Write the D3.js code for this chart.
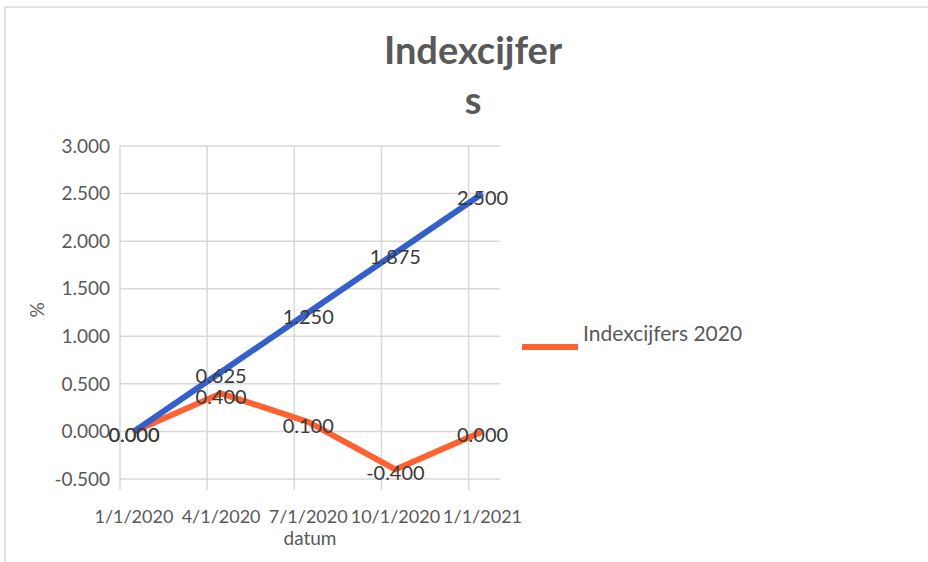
<!DOCTYPE html>
<html>
<head>
<meta charset="utf-8">
<script src="https://cdn.jsdelivr.net/npm/d3@7"></script>
<style>
  body { margin: 0; background: #fff; }
  text { font-family: Lato, "Open Sans", sans-serif; }
</style>
</head>
<body>
<svg id="chart" width="928" height="562"></svg>
<script>
// data
const dates = ["1/1/2020", "4/1/2020", "7/1/2020", "10/1/2020", "1/1/2021"];
const indexcijfers2020 = [0.0, 0.4, 0.1, -0.4, 0.0];
const trendSeries = [0.0, 0.625, 1.25, 1.875, 2.5];
const yTicks = [-0.5, 0, 0.5, 1, 1.5, 2, 2.5, 3];
const titleLines = ["Indexcijfer", "s"];
const legendLabel = "Indexcijfers 2020";

const svg = d3.select("#chart");

let plot = { left: 120, right: 500, top: 146, bottom: 479 };

// x: category index, ticks on integers, points sit a bit to the right
let x = d3.scaleLinear().domain([0, 4.36]).range([plot.left, plot.right]);
let pointOffset = 0.16;
let y = d3.scaleLinear().domain([-0.5, 3]).range([plot.bottom, plot.top]);

// plain hyphen for negatives, like the original
let fmt = d3
  .formatLocale({ decimal: ".", thousands: ",", grouping: [3], currency: ["", ""], minus: "-" })
  .format(".3f");

// outer frame (only top + left visible)
svg.append("line").attr("x1", 5).attr("x2", 928).attr("y1", 7).attr("y2", 7)
  .style("stroke", "#d9d9d9").style("stroke-width", 1.5);
svg.append("line").attr("x1", 5).attr("x2", 5).attr("y1", 7).attr("y2", 562)
  .style("stroke", "#d9d9d9").style("stroke-width", 1.5);

// title (wrapped in two lines like the original)
svg.append("text")
  .attr("text-anchor", "middle")
  .style("font-size", "38px")
  .style("font-weight", "bold")
  .style("fill", "#595959")
  .selectAll("tspan")
  .data(titleLines)
  .enter()
  .append("tspan")
  .attr("x", 473)
  .attr("y", (d, i) => 64 + i * 50)
  .text((d) => d);

// horizontal grid
svg.append("g")
  .selectAll("line")
  .data(yTicks)
  .enter()
  .append("line")
  .attr("x1", plot.left)
  .attr("x2", plot.right)
  .attr("y1", (d) => y(d))
  .attr("y2", (d) => y(d))
  .style("stroke", "#d9d9d9")
  .style("stroke-width", 1.5);

// vertical grid + ticks below the axis
svg.append("g")
  .selectAll("line")
  .data(dates)
  .enter()
  .append("line")
  .attr("x1", (d, i) => x(i))
  .attr("x2", (d, i) => x(i))
  .attr("y1", plot.top)
  .attr("y2", plot.bottom + 11)
  .style("stroke", "#d9d9d9")
  .style("stroke-width", 1.5);

// y tick labels
svg.append("g")
  .selectAll("text")
  .data(yTicks)
  .enter()
  .append("text")
  .attr("x", 110)
  .attr("y", (d) => y(d))
  .attr("dy", "0.35em")
  .attr("text-anchor", "end")
  .style("font-size", "19px")
  .style("fill", "#595959")
  .text((d) => fmt(d));

// x tick labels
svg.append("g")
  .selectAll("text")
  .data(dates)
  .enter()
  .append("text")
  .attr("x", (d, i) => x(i + pointOffset))
  .attr("y", 523)
  .attr("text-anchor", "middle")
  .style("font-size", "18px")
  .style("fill", "#595959")
  .text((d) => d);

// axis titles
svg.append("text")
  .attr("x", 310)
  .attr("y", 545)
  .attr("text-anchor", "middle")
  .style("font-size", "19px")
  .style("fill", "#595959")
  .text("datum");

svg.append("text")
  .attr("transform", "translate(44,310) rotate(-90)")
  .attr("text-anchor", "middle")
  .style("font-size", "19px")
  .style("fill", "#595959")
  .text("%");

// lines
let line = d3.line()
  .x((d, i) => x(i + pointOffset))
  .y((d) => y(d));

svg.append("path")
  .datum(indexcijfers2020)
  .attr("d", line)
  .style("fill", "none")
  .style("stroke", "#ff6130")
  .style("stroke-width", 6);

svg.append("path")
  .datum(trendSeries)
  .attr("d", line)
  .style("fill", "none")
  .style("stroke", "#3560cc")
  .style("stroke-width", 6);

// data labels
function labels(values) {
  svg.append("g")
    .selectAll("text")
    .data(values)
    .enter()
    .append("text")
    .attr("x", (d, i) => x(i + pointOffset))
    .attr("y", (d) => y(d) + 4)
    .attr("dy", "0.35em")
    .attr("text-anchor", "middle")
    .style("font-size", "20px")
    .style("fill", "#3a3a3a")
    .text((d) => fmt(d));
}
labels(indexcijfers2020);
labels(trendSeries);

// legend (orange series only)
svg.append("line")
  .attr("x1", 522).attr("x2", 578)
  .attr("y1", 347).attr("y2", 347)
  .style("stroke", "#ff6130")
  .style("stroke-width", 6);

svg.append("text")
  .attr("x", 583)
  .attr("y", 341)
  .style("font-size", "21px")
  .style("fill", "#595959")
  .text(legendLabel);
</script>
</body>
</html>
